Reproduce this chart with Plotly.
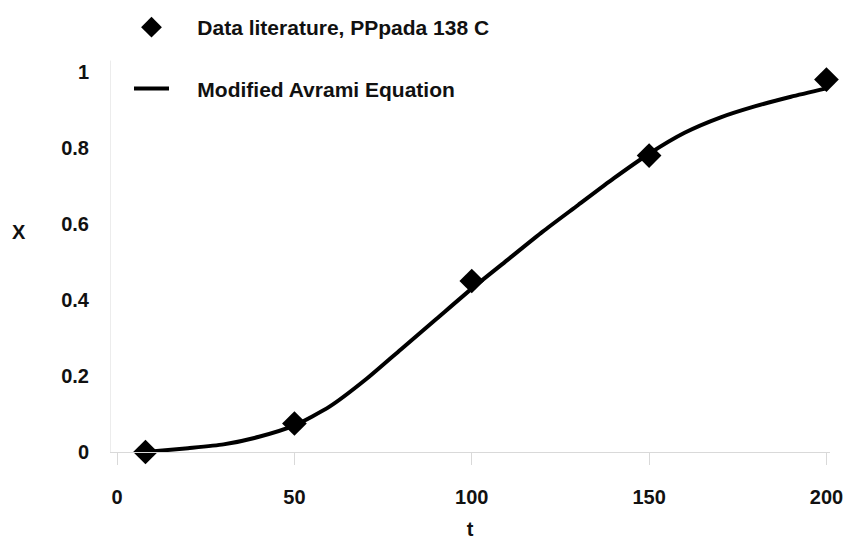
import plotly.graph_objects as go

# Measured crystallinity of PP at 138 C
t_data = [8, 50, 100, 150, 200]
x_data = [0.0, 0.075, 0.45, 0.78, 0.98]

# Modified Avrami model curve
t_model = [8, 20, 30, 40, 50, 60, 70, 80, 90, 100, 110, 120, 130, 140, 150, 160, 170, 180, 190, 200]
x_model = [0.0, 0.01, 0.02, 0.04, 0.07, 0.12, 0.19, 0.27, 0.35, 0.43, 0.505, 0.58,
           0.65, 0.72, 0.785, 0.84, 0.88, 0.91, 0.935, 0.957]

x_ticks = [0, 50, 100, 150, 200]
y_ticks = [0, 0.2, 0.4, 0.6, 0.8, 1]
y_tick_text = ["0", "0.2", "0.4", "0.6", "0.8", "1"]

INK = "#111111"
FAINT = "#d9d9d9"
TICK_FONT = dict(family="Liberation Sans", color=INK, size=20, weight="bold")
GAP = "\u00a0" * 4  # space between legend symbol and label

fig = go.Figure()
fig.add_trace(go.Scatter(
    x=t_data, y=x_data, mode="markers", name=GAP + "Data literature, PPpada 138 C",
    marker=dict(symbol="diamond", size=19, color="#000000"),
    cliponaxis=False, legendgroup="a",
))
fig.add_trace(go.Scatter(
    x=t_model, y=x_model, mode="lines", name=GAP + "Modified Avrami Equation",
    line=dict(color="#000000", width=4, shape="spline", smoothing=0.6),
    cliponaxis=False, legendgroup="b",
))

# faint left axis line
fig.add_shape(type="line", xref="x", yref="y", x0=-2, x1=-2, y0=0, y1=1.03,
              line=dict(color=FAINT, width=1))

# y-axis title
fig.add_annotation(text="X", xref="paper", yref="paper", x=(19 - 110) / 720, y=0.5,
                   showarrow=False, font=TICK_FONT, xanchor="center", yanchor="middle")

fig.update_layout(
    width=843, height=540,
    margin=dict(l=110, r=13, t=12, b=88, autoexpand=False),
    paper_bgcolor="white", plot_bgcolor="white",
    font=TICK_FONT,
    showlegend=True,
    legend=dict(
        xref="container", yref="container", x=129 / 843, y=1 - 7 / 540,
        xanchor="left", yanchor="top",
        font=dict(family="Liberation Sans", size=21, color=INK, weight="bold"),
        tracegroupgap=31, itemwidth=35, bgcolor="rgba(0,0,0,0)",
    ),
    xaxis=dict(
        range=[-2, 201], tickvals=x_ticks, showgrid=False, zeroline=False,
        showline=True, linecolor=FAINT, linewidth=1,
        ticks="outside", ticklen=12, tickcolor=FAINT,
        ticklabelstandoff=15, tickfont=TICK_FONT, ticklabeloverflow="allow",
        title=dict(text="t", standoff=22, font=TICK_FONT),
    ),
    yaxis=dict(
        range=[0, 440 / 380], tickvals=y_ticks, ticktext=y_tick_text,
        showgrid=False, zeroline=False, showline=False,
        ticks="", ticklabelstandoff=20, tickfont=TICK_FONT,
    ),
)

fig.write_html("out.html")
